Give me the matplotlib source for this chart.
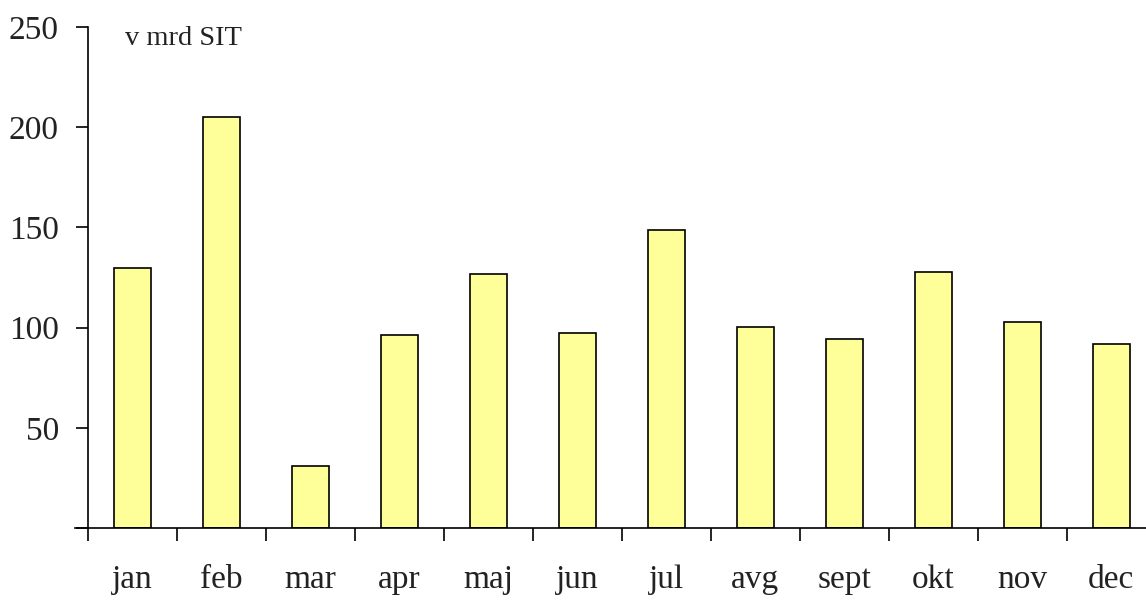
import matplotlib.pyplot as plt
import numpy as np

months = ["jan", "feb", "mar", "apr", "maj", "jun",
          "jul", "avg", "sept", "okt", "nov", "dec"]
values = [129.5, 205, 31, 96.5, 126.5, 97.5, 148.5, 100.5, 94.5, 127.5, 103, 92]
y_ticks = [0, 50, 100, 150, 200, 250]
y_tick_labels = ["", "50", "100", "150", "200", "250"]
unit_label = "v mrd SIT"

plt.rcParams['font.family'] = ['Liberation Serif', 'DejaVu Serif']

fig = plt.figure(figsize=(11.46, 6.03), dpi=100)
ax = fig.add_axes([88 / 1146, 1 - 528 / 603, 1 - 88 / 1146, (528 - 27) / 603])

x = np.arange(len(months))
ax.bar(x, values, width=0.41, color='#ffff99', edgecolor='black', linewidth=1.2,
       zorder=2)

# x: ticks on category boundaries, labels centred under bars
ax.set_xticks(np.arange(len(months) + 1) - 0.5)
ax.set_xticklabels([])
ax.set_xticks(x, minor=True)
ax.set_xticklabels(months, minor=True, fontsize=24, color='#222222')
ax.tick_params(axis='x', which='major', direction='out', length=9, width=1.2)
ax.tick_params(axis='x', which='minor', length=0, pad=26)

ax.set_yticks(y_ticks)
ax.set_yticklabels(y_tick_labels, fontsize=24, color='#222222')
ax.tick_params(axis='y', direction='out', length=9, width=1.2, pad=12)

# limits after the ticks, so the last boundary tick stays out of view
ax.set_xlim(-0.5, 11.39)
ax.set_ylim(0, 250)

for side in ['top', 'right']:
    ax.spines[side].set_visible(False)
for side in ['left', 'bottom']:
    ax.spines[side].set_linewidth(1.2)
ax.spines['bottom'].set_bounds(-0.5 - 13 / 89, 11.39)
ax.spines['bottom'].set_clip_on(False)

ax.text(0.035, 0.978, unit_label, transform=ax.transAxes, fontsize=20.5,
        va='center', ha='left', color='#222222')

fig.savefig("out.png", dpi=100)
